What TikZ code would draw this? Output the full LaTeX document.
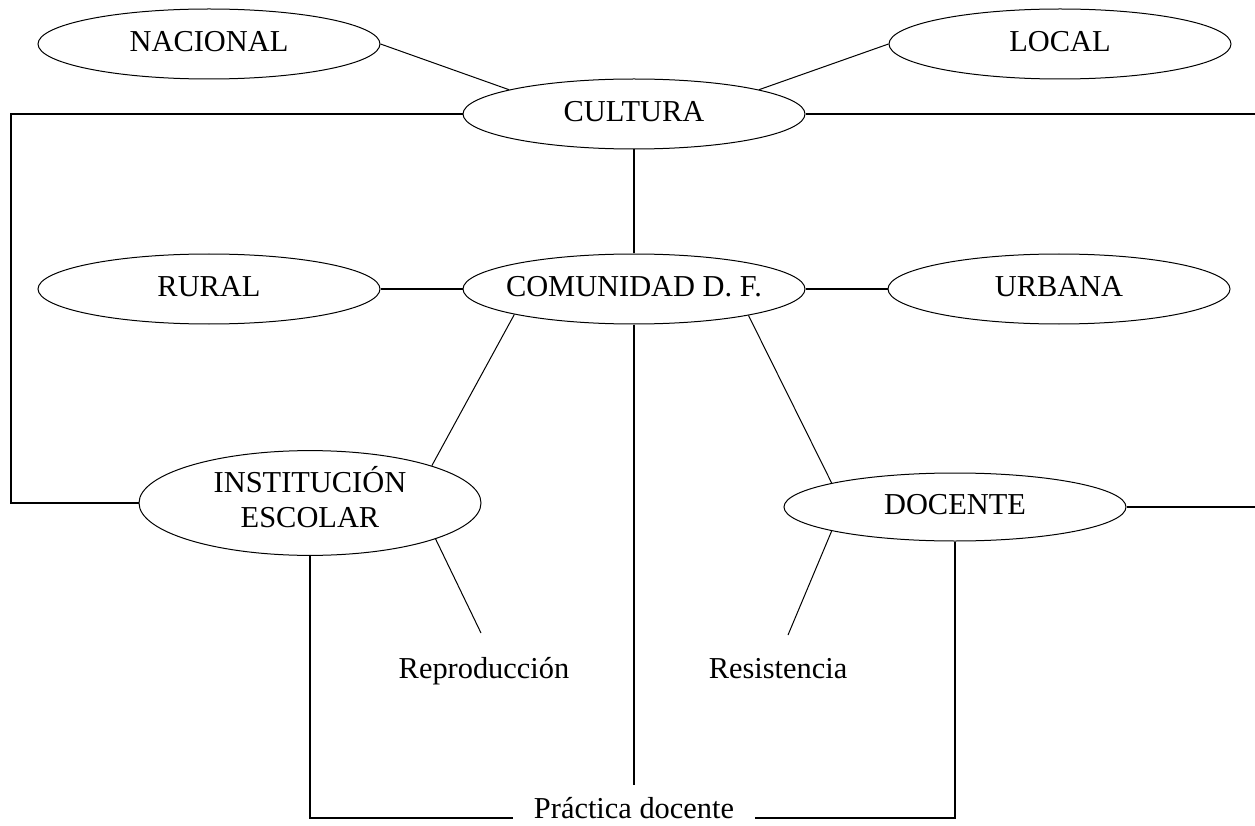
\documentclass[tikz,border=0pt]{standalone}
\usepackage{fontspec}
\setmainfont{Liberation Serif}
\usetikzlibrary{shapes.geometric,positioning}

\begin{document}
\begin{tikzpicture}[
    x=1pt, y=-1pt,
    concept/.style={draw, ellipse, line width=1pt, minimum width=342pt,
        minimum height=70pt, inner xsep=-40pt, inner ysep=0pt,
        text depth=6pt, align=center},
    link/.style={line width=1pt},
    bond/.style={line width=2pt},
    node distance=82pt,
    font=\fontsize{30.4}{35}\selectfont
]
\useasboundingbox (0,0) rectangle (1255,826);

\node[concept] (cultura) at (634,114) {CULTURA};
\node[concept] (nacional) at (209,44) {NACIONAL};
\node[concept] (local) at (1060,44) {LOCAL};
\node[concept] (comunidad) at (634,289) {COMUNIDAD D. F.};
\node[concept, left=of comunidad] (rural) {RURAL};
\node[concept, right=of comunidad] (urbana) {URBANA};
\node[concept, minimum height=100pt, text depth=13pt] (institucion) at (310,503) {INSTITUCIÓN\\ESCOLAR};
\node[concept, minimum height=68pt] (docente) at (955,507) {DOCENTE};
\node[anchor=base] (reproduccion) at (484,678) {Reproducción};
\node[anchor=base] (resistencia) at (778,678) {Resistencia};
\node[inner xsep=21pt, inner ysep=2pt, outer sep=0pt, anchor=base] (practica) at (634,818) {Práctica docente};

\coordinate (leftup) at (11,114);
\coordinate (leftdown) at (11,503);
\coordinate (rightup) at (1255,114);
\coordinate (rightdown) at (1255,507);
\coordinate (reproend) at (481,633);
\coordinate (resisend) at (788,635);

\draw[link] (nacional.east) -- (cultura.169);
\draw[link] (local.west) -- (cultura.11);
\draw[bond] (cultura.west) -- (leftup) -- (leftdown) -- (institucion.west);
\draw[bond] (cultura.east) -- (rightup);
\draw[bond] (cultura.south) -- (comunidad.north);
\draw[bond] (rural) -- (comunidad);
\draw[bond] (comunidad) -- (urbana);
\draw[link] (comunidad.192) -- (institucion.17);
\draw[link] (comunidad.347) -- (docente.169);
\draw[bond] (docente.east) -- (rightdown);
\draw[link] (institucion.344) -- (reproend);
\draw[link] (docente.191) -- (resisend);
\draw[bond, shorten >=10pt] (comunidad.south) -- (practica.north);
\draw[bond] (institucion.south) |- (practica.base west);
\draw[bond] (docente.south) |- (practica.base east);
\end{tikzpicture}
\end{document}
